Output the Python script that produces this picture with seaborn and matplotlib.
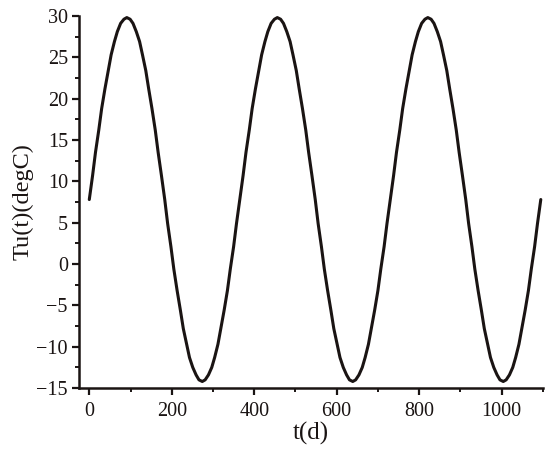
import matplotlib
matplotlib.use("Agg")
import matplotlib.pyplot as plt
import seaborn as sns
import pandas as pd
from matplotlib.ticker import MultipleLocator

# values (three yearly cycles)
days = [
    0, 8, 15, 23, 30, 38, 46, 53, 61, 68, 76, 84, 91, 99, 106, 114, 122, 129, 137, 144,
    152, 160, 167, 175, 183, 190, 198, 205, 213, 221, 228, 236, 243, 251, 259, 266, 274,
    281, 289, 297, 304, 312, 319, 327, 335, 342, 350, 357,
    365, 373, 380, 388, 395, 403, 411, 418, 426, 433, 441, 449, 456, 464, 471, 479, 487,
    494, 502, 509, 517, 525, 532, 540, 548, 555, 563, 570, 578, 586, 593, 601, 608, 616,
    624, 631, 639, 646, 654, 662, 669, 677, 684, 692, 700, 707, 715, 722,
    730, 738, 745, 753, 760, 768, 776, 783, 791, 798, 806, 814, 821, 829, 836, 844, 852,
    859, 867, 874, 882, 890, 897, 905, 913, 920, 928, 935, 943, 951, 958, 966, 973, 981,
    989, 996, 1004, 1011, 1019, 1027, 1034, 1042, 1049, 1057, 1065, 1072, 1080, 1087, 1095,
]
temps = [
    7.8, 10.7, 13.5, 16.2, 18.8, 21.2, 23.4, 25.3, 26.9, 28.1, 29.1, 29.6, 29.8, 29.6,
    29.1, 28.1, 26.9, 25.3, 23.4, 21.2, 18.8, 16.2, 13.5, 10.7, 7.8, 4.9, 2.1, -0.6,
    -3.2, -5.6, -7.8, -9.7, -11.3, -12.5, -13.4, -14.0, -14.2, -14.0, -13.4, -12.5,
    -11.3, -9.7, -7.8, -5.6, -3.2, -0.6, 2.1, 4.9,
    7.8, 10.7, 13.5, 16.2, 18.8, 21.2, 23.4, 25.3, 26.9, 28.1, 29.1, 29.6, 29.8, 29.6,
    29.1, 28.1, 26.9, 25.3, 23.4, 21.2, 18.8, 16.2, 13.5, 10.7, 7.8, 4.9, 2.1, -0.6,
    -3.2, -5.6, -7.8, -9.7, -11.3, -12.5, -13.4, -14.0, -14.2, -14.0, -13.4, -12.5,
    -11.3, -9.7, -7.8, -5.6, -3.2, -0.6, 2.1, 4.9,
    7.8, 10.7, 13.5, 16.2, 18.8, 21.2, 23.4, 25.3, 26.9, 28.1, 29.1, 29.6, 29.8, 29.6,
    29.1, 28.1, 26.9, 25.3, 23.4, 21.2, 18.8, 16.2, 13.5, 10.7, 7.8, 4.9, 2.1, -0.6,
    -3.2, -5.6, -7.8, -9.7, -11.3, -12.5, -13.4, -14.0, -14.2, -14.0, -13.4, -12.5,
    -11.3, -9.7, -7.8, -5.6, -3.2, -0.6, 2.1, 4.9, 7.8,
]
x_ticks = [0, 200, 400, 600, 800, 1000]
y_ticks = [-15, -10, -5, 0, 5, 10, 15, 20, 25, 30]

sns.set_style("ticks")
plt.rcParams['font.family'] = ['Liberation Serif', 'DejaVu Serif']
plt.rcParams['axes.unicode_minus'] = True

df = pd.DataFrame({'t': days, 'Tu': temps})

fig = plt.figure(figsize=(5.5, 4.55), dpi=100)
ax = fig.add_axes([0.1436, 0.147, 0.8434, 0.818])
sns.lineplot(data=df, x='t', y='Tu', color='#1a1413', linewidth=2.2, ax=ax)

ax.set_xlim(-25, 1100)
ax.set_ylim(-15, 30)
ax.set_xticks(x_ticks)
ax.set_yticks(y_ticks)
ax.xaxis.set_minor_locator(MultipleLocator(100))
ax.yaxis.set_minor_locator(MultipleLocator(2.5))
ax.tick_params(which='major', direction='out', length=5, width=1.6, labelsize=14.5,
               colors='#1a1413')
ax.tick_params(axis='x', which='major', pad=5)
ax.tick_params(axis='y', which='major', pad=3)
ax.tick_params(which='minor', direction='out', length=3, width=1.4, colors='#1a1413')

sns.despine(ax=ax)
for side in ['left', 'bottom']:
    ax.spines[side].set_linewidth(1.8)
    ax.spines[side].set_color('#1a1413')

ax.set_xlabel('t(d)', fontsize=18, labelpad=1, color='#1a1413')
ax.set_ylabel('Tu(t)(degC)', fontsize=17.5, labelpad=2, color='#1a1413')

fig.savefig('out.png', dpi=100)
